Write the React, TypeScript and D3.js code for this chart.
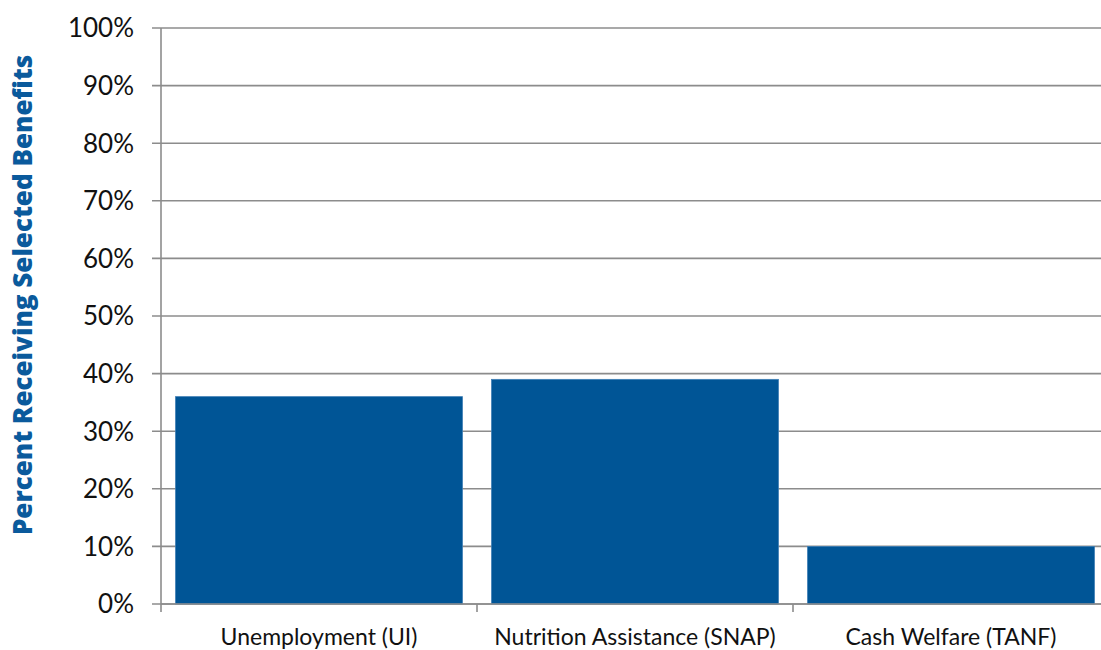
import React from "react";
import * as d3 from "d3";

const categories = ["Unemployment (UI)", "Nutrition Assistance (SNAP)", "Cash Welfare (TANF)"];
const values = [36, 39, 10];
const yTicks = [0, 10, 20, 30, 40, 50, 60, 70, 80, 90, 100];
const yTitle = "Percent Receiving Selected Benefits";

const W = 1101;
const H = 650;
const left = 161;
const right = 1109;
const top = 28;
const bottom = 604;
const barColor = "#005596";
const gridColor = "#8c8c8c";
const font = "Lato, 'Open Sans', sans-serif";

export default function App() {
  const x = d3.scaleBand<string>().domain(categories).range([left, right]).paddingInner(0.092).paddingOuter(0.046);
  const y = d3.scaleLinear().domain([0, 100]).range([bottom, top]);
  const step = x.step();

  return (
    <svg width={W} height={H} style={{ position: "absolute", left: 0, top: 0, background: "#fff" }}>
      {yTicks.map((t) => (
        <g key={t}>
          <line x1={left - 9} x2={right} y1={y(t)} y2={y(t)} stroke={gridColor} strokeWidth={1.6} />
          <text x={134} y={y(t)} dy="0.36em" textAnchor="end" fontFamily={font} fontSize={26} fill="#111">
            {t}%
          </text>
        </g>
      ))}
      {categories.map((c, i) => (
        <rect
          key={c}
          x={x(c)}
          y={y(values[i])}
          width={x.bandwidth()}
          height={bottom - y(values[i])}
          fill={barColor}
          stroke="#3f7fb5"
          strokeWidth={0.8}
        />
      ))}
      <line x1={left} x2={left} y1={top} y2={bottom + 8} stroke={gridColor} strokeWidth={1.6} />
      <line x1={left} x2={right} y1={bottom} y2={bottom} stroke={gridColor} strokeWidth={1.6} />
      {categories.map((c, i) => (
        <g key={c}>
          {i > 0 && (
            <line x1={left + step * i} x2={left + step * i} y1={bottom} y2={bottom + 8} stroke={gridColor} strokeWidth={1.6} />
          )}
          <text x={(x(c) ?? 0) + x.bandwidth() / 2} y={637} dy="0.36em" textAnchor="middle" fontFamily={font} fontSize={23} fill="#111">
            {c}
          </text>
        </g>
      ))}
      <text
        transform={`translate(23, 295) rotate(-90)`}
        dy="0.36em"
        textAnchor="middle"
        fontFamily="'Open Sans', sans-serif"
        fontWeight={800}
        fontSize={26}
        fill="#0a5a9c"
      >
        {yTitle}
      </text>
    </svg>
  );
}
